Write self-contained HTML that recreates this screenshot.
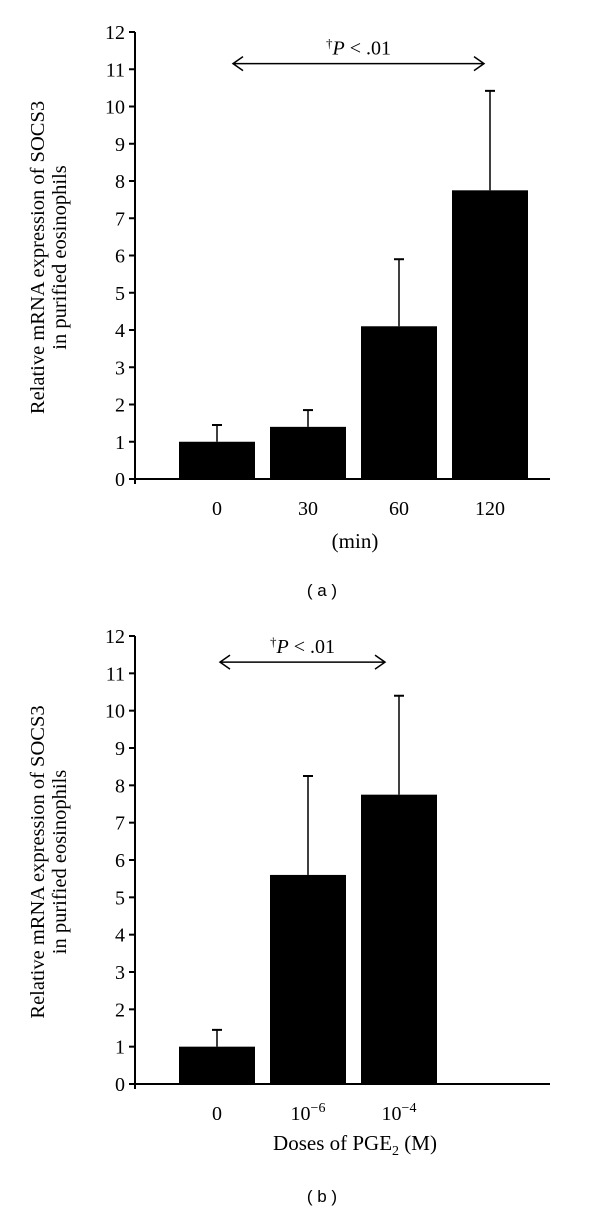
<!DOCTYPE html>
<html><head><meta charset="utf-8"><style>
body{margin:0;background:#fff}
svg{display:block;font-family:"Liberation Serif",serif}
</style></head><body>
<svg id="s" width="600" height="1210"></svg>
<script>
const ticks=[0,1,2,3,4,5,6,7,8,9,10,11,12];
const catsA=["0","30","60","120"];
const valsA=[1,1.4,4.1,7.75];
const errA=[1.45,1.85,5.9,10.42];
const catsB=["0","10<tspan dy='-8' font-size='14'>−6</tspan>","10<tspan dy='-8' font-size='14'>−4</tspan>"];
const valsB=[1,5.6,7.75];
const errB=[1.45,8.25,10.4];
const NS="http://www.w3.org/2000/svg";
const s=document.getElementById('s');
function el(t,a,p){const e=document.createElementNS(NS,t);for(const k in a)e.setAttribute(k,a[k]);(p||s).appendChild(e);return e;}
function chart(id,y0,y12,cats,vals,errs,xlabel,cap,arrX1,arrX2,arrV,capY,xlabY){
  const g=el('g',{});
  
  
  const yS=v=>y0-(y0-y12)*v/12;
  const xL=135,slot=91,first=179,bw=76;
  const ax=el('line',{x1:xL,y1:y12,x2:xL,y2:y0+5,stroke:'#000','stroke-width':2},g);
  
  
  const xa=el('line',{x1:xL,y1:y0,x2:550,y2:y0,stroke:'#000','stroke-width':2},g);
  
  
  ticks.forEach(t=>{
    el('line',{x1:xL-6,y1:yS(t),x2:xL,y2:yS(t),stroke:'#000','stroke-width':2},g);
    const tx=el('text',{x:xL-10,y:yS(t)+7,'text-anchor':'end','font-size':20},g);
    tx.textContent=t;
    
    
  });
  cats.forEach((c,i)=>{
    const bx=first+i*slot;
    const b=el('rect',{x:bx,y:yS(vals[i]),width:bw,height:y0-yS(vals[i]),fill:'#000'},g);
    
    
    const cx=bx+bw/2;
    const e=el('line',{x1:cx,y1:yS(vals[i]),x2:cx,y2:yS(errs[i]),stroke:'#000','stroke-width':1.5},g);
    
    
    el('line',{x1:cx-5,y1:yS(errs[i]),x2:cx+5,y2:yS(errs[i]),stroke:'#000','stroke-width':2},g);
    const l=el('text',{x:cx,y:y0+36,'text-anchor':'middle','font-size':20},g);
    l.innerHTML=c;
    
    
  });
  const ay=yS(arrV);
  const ar=el('path',{d:`M${arrX1} ${ay}H${arrX2}M${arrX1+10} ${ay-7}L${arrX1} ${ay}L${arrX1+10} ${ay+7}M${arrX2-10} ${ay-7}L${arrX2} ${ay}L${arrX2-10} ${ay+7}`,stroke:'#000','stroke-width':1.5,fill:'none'},g);
  
  
  const p=el('text',{x:(arrX1+arrX2)/2,y:ay-9,'text-anchor':'middle','font-size':20},g);
  p.innerHTML="<tspan font-size='13' dy='-7'>†</tspan><tspan font-style='italic' dy='7'>P</tspan> &lt; .01";
  
  
  const yt=el('text',{transform:`translate(44,${(y0+y12)/2+2}) rotate(-90)`,'text-anchor':'middle','font-size':20.5},g);
  yt.innerHTML=`<tspan x="0" dy="0">Relative mRNA expression of SOCS3</tspan><tspan x="0" dy="22">in purified eosinophils</tspan>`;
  
  
  const xt=el('text',{x:355,y:xlabY,'text-anchor':'middle','font-size':21},g);
  xt.innerHTML=xlabel;
  
  
  const cp=el('text',{x:322,y:capY,'text-anchor':'middle','font-size':17,'font-family':'Liberation Sans, sans-serif'},g);
  cp.textContent=cap;
  
  
}
chart('a',479,32,catsA,valsA,errA,'(min)','( a )',233,484,11.15,596,548);
chart('b',1084,636,catsB,valsB,errB,'Doses of PGE<tspan font-size="14" dy="5">2</tspan><tspan dy="-5"> (M)</tspan>','( b )',220,385,11.3,1202,1150);
</script>
</body></html>
